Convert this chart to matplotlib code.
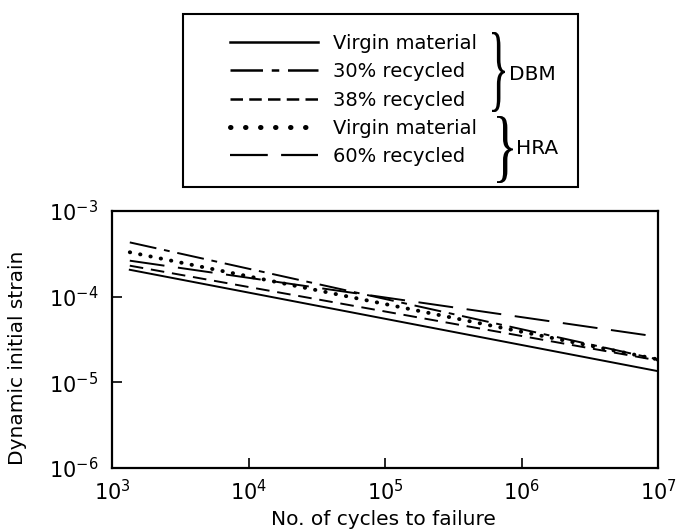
"""Fatigue lines: dynamic initial strain vs. cycles to failure (DBM / HRA)."""

import matplotlib

matplotlib.use("Agg")
import matplotlib.pyplot as plt  # noqa: E402
from matplotlib.font_manager import FontProperties  # noqa: E402
from matplotlib.lines import Line2D  # noqa: E402
from matplotlib.patches import PathPatch, Rectangle  # noqa: E402
from matplotlib.textpath import TextPath  # noqa: E402
from matplotlib.transforms import Affine2D  # noqa: E402

plt.rcParams["font.family"] = ["DejaVu Sans"]
plt.rcParams["mathtext.default"] = "regular"

W, H = 676, 531

# data (end points of each fatigue line)
cycles = [1.35e3, 1e7]
dbm_virgin = [2.06e-4, 1.35e-5]
dbm_30 = [4.3e-4, 1.85e-5]
dbm_38 = [2.3e-4, 1.8e-5]
hra_virgin = [3.3e-4, 1.85e-5]
hra_60 = [2.63e-4, 3.4e-5]

labels = ["Virgin material", "30% recycled", "38% recycled",
          "Virgin material", "60% recycled"]
x_ticks = [1e3, 1e4, 1e5, 1e6, 1e7]
x_ticklabels = [r"$10^3$", r"$10^4$", r"$10^5$", r"$10^6$", r"$10^7$"]
y_ticks = [1e-6, 1e-5, 1e-4, 1e-3]
y_ticklabels = [r"$10^{-6}$", r"$10^{-5}$", r"$10^{-4}$", r"$10^{-3}$"]

styles = [
    dict(linestyle="-", linewidth=1.4),
    dict(linestyle=(0, (14, 4, 3, 4)), linewidth=1.4),
    dict(linestyle=(0, (7, 4)), linewidth=1.4),
    dict(linestyle=(0, (0.1, 2.6)), linewidth=2.8, dash_capstyle="round"),
    dict(linestyle=(0, (18, 7)), linewidth=1.4),
]
# the key shows slightly different dash lengths than the plotted lines
legend_styles = [
    dict(linestyle="-", linewidth=1.8),
    dict(linestyle=(0, (13, 3.5, 3, 3.5)), linewidth=1.8),
    dict(linestyle=(0, (5, 2.5)), linewidth=1.8),
    dict(linestyle=(0, (0.1, 2.9)), linewidth=3.6, dash_capstyle="round"),
    dict(linestyle=(0, (17, 6)), linewidth=1.6),
]
series = [dbm_virgin, dbm_30, dbm_38, hra_virgin, hra_60]


def px(x, y):
    """Pixel position (from top-left) to figure fraction."""
    return x / W, 1 - y / H


def brace(fig, x0, x1, y_top, y_bot):
    """Thin curly brace squeezed into a pixel box."""
    tp = TextPath((0, 0), "}", size=1, prop=FontProperties(family="Liberation Serif"))
    ext = tp.get_extents()
    fx0, fy0 = px(x0, y_bot)
    fx1, fy1 = px(x1, y_top)
    tr = (Affine2D().translate(-ext.x0, -ext.y0)
          .scale((fx1 - fx0) / ext.width, (fy1 - fy0) / ext.height)
          .translate(fx0, fy0) + fig.transFigure)
    fig.add_artist(PathPatch(tp, transform=tr, facecolor="black", edgecolor="none"))


fig = plt.figure(figsize=(W / 100, H / 100), dpi=100)
ax = fig.add_axes([112 / W, 1 - 468 / H, 546 / W, 257 / H])

for vals, st in zip(series, styles):
    ax.plot(cycles, vals, color="black", **st)

ax.set_xscale("log")
ax.set_yscale("log")
ax.set_xlim(1e3, 1e7)
ax.set_ylim(1e-6, 1e-3)
ax.set_xticks(x_ticks)
ax.set_xticklabels(x_ticklabels)
ax.set_yticks(y_ticks)
ax.set_yticklabels(y_ticklabels)
ax.minorticks_off()
ax.tick_params(direction="in", length=7, width=1.2, labelsize=15)
ax.tick_params(axis="y", pad=10)
ax.tick_params(axis="x", pad=8)
for sp in ax.spines.values():
    sp.set_linewidth(1.6)

ax.set_xlabel("No. of cycles to failure", fontsize=14.5)
ax.set_ylabel("Dynamic initial strain", fontsize=14.5)
ax.xaxis.set_label_coords(0.497, -0.165)
ax.yaxis.set_label_coords(-0.155, 0.43)

# legend box with the two groups
(rx, ry) = px(183, 187)
fig.add_artist(Rectangle((rx, ry), 395 / W, 173 / H, transform=fig.transFigure,
                         fill=False, linewidth=1.5, edgecolor="black"))
handles = [Line2D([], [], color="black", **st) for st in legend_styles]
fig.legend(handles, labels, loc="center left", bbox_to_anchor=px(230, 100),
           frameon=False, fontsize=14, handlelength=4.5, handletextpad=0.8,
           labelspacing=0.48, borderpad=0, borderaxespad=0)

brace(fig, 492, 505, 32, 112)
brace(fig, 497, 513, 116, 183)
fig.text(*px(509, 74), "DBM", fontsize=14.5, ha="left", va="center")
fig.text(*px(516, 149), "HRA", fontsize=14.5, ha="left", va="center")

fig.savefig("out.png", dpi=100)
